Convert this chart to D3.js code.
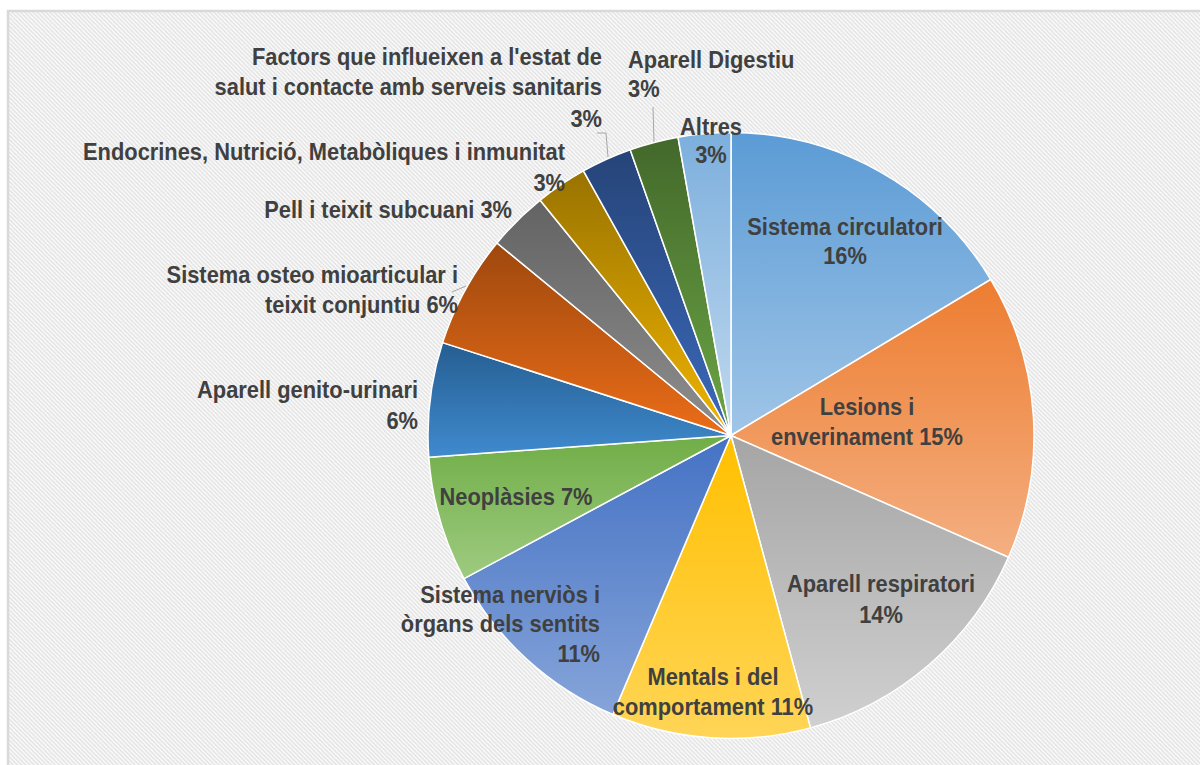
<!DOCTYPE html>
<html>
<head>
<meta charset="utf-8">
<script src="https://cdn.jsdelivr.net/npm/d3@7"></script>
<style>
  html, body { margin: 0; padding: 0; background: #ffffff; }
  svg { display: block; }
</style>
</head>
<body>
<svg id="chart" width="1200" height="765"></svg>
<script>
// ---- data ----
const categories = [
  "Sistema circulatori",
  "Lesions i enverinament",
  "Aparell respiratori",
  "Mentals i del comportament",
  "Sistema nerviòs i òrgans dels sentits",
  "Neoplàsies",
  "Aparell genito-urinari",
  "Sistema osteo mioarticular i teixit conjuntiu",
  "Pell i teixit subcuani",
  "Endocrines, Nutrició, Metabòliques i inmunitat",
  "Factors que influeixen a l'estat de salut i contacte amb serveis sanitaris",
  "Aparell Digestiu",
  "Altres"
];
const values = [16.4, 15.2, 14.2, 10.6, 10.8, 6.7, 6.1, 6.0, 3.2, 2.75, 2.7, 2.6, 2.8];
const baseColors = ["#5B9BD5", "#ED7D31", "#A5A5A5", "#FFC000", "#4472C4", "#70AD47",
                    "#255E91", "#9E480E", "#636363", "#997300", "#264478", "#43682B", "#7CAFDD"];

// ---- label layout (text wrapping and placement) ----
const labelLayout = [
  { lines: ["Sistema circulatori", "{p}"], anchor: "middle", x: 845, y: [235, 264] },
  { lines: ["Lesions i", "enverinament {p}"], anchor: "middle", x: 867, y: [415, 445] },
  { lines: ["Aparell respiratori", "{p}"], anchor: "middle", x: 881, y: [592, 623] },
  { lines: ["Mentals i del", "comportament {p}"], anchor: "middle", x: 713, y: [685, 715] },
  { lines: ["Sistema nerviòs i", "òrgans dels sentits", "{p}"], anchor: "end", x: 600, y: [603, 632, 662] },
  { lines: ["Neoplàsies {p}"], anchor: "middle", x: 516, y: [505] },
  { lines: ["Aparell genito-urinari", "{p}"], anchor: "end", x: 418, y: [398, 429] },
  { lines: ["Sistema osteo mioarticular i", "teixit conjuntiu {p}"], anchor: "end", x: 458, y: [283, 313] },
  { lines: ["Pell i teixit subcuani {p}"], anchor: "end", x: 512, y: [218] },
  { lines: ["Endocrines, Nutrició, Metabòliques i inmunitat", "{p}"], anchor: "end", x: 565, y: [160, 191] },
  { lines: ["Factors que influeixen a l'estat de", "salut i contacte amb serveis sanitaris", "{p}"], anchor: "end", x: 602, y: [65, 95, 127] },
  { lines: ["Aparell Digestiu", "{p}"], anchor: "start", x: 628, y: [68, 97] },
  { lines: ["Altres", "{p}"], anchor: "middle", x: 711, y: [135, 163] }
];
const leaders = [
  [[597, 133], [606, 133], [608, 157]],
  [[653, 107], [654, 142]],
  [[452, 292], [466, 286]]
];

const svg = d3.select("#chart");
const W = 1200, H = 765;
const cx = 731, cy = 435.5, R = 303;

const defs = svg.append("defs");
// striped background
const pat = defs.append("pattern")
  .attr("id", "stripes").attr("patternUnits", "userSpaceOnUse")
  .attr("width", 4.2).attr("height", 4.2);
pat.append("rect").attr("width", 4.2).attr("height", 4.2).attr("fill", "#fbfbfb");
pat.append("path")
  .attr("d", "M-1,-1 L5.2,5.2 M-1,3.2 L1,5.2 M3.2,-1 L5.2,1")
  .attr("stroke", "#e2e2e2").attr("stroke-width", 1.4);

svg.append("rect").attr("width", W).attr("height", H).attr("fill", "#ffffff");
svg.append("rect")
  .attr("x", 8).attr("y", 11).attr("width", W + 20).attr("height", H + 20)
  .attr("fill", "url(#stripes)")
  .attr("stroke", "#d9d9d9").attr("stroke-width", 2.5);

// gradients per slice
baseColors.forEach((c, i) => {
  const hsl = d3.hsl(c);
  const light = d3.hsl(hsl.h, hsl.s, Math.min(0.92, hsl.l + 0.17));
  const g = defs.append("linearGradient")
    .attr("id", "grad" + i)
    .attr("x1", 0).attr("y1", 0).attr("x2", 0).attr("y2", 1);
  g.append("stop").attr("offset", "0%").attr("stop-color", c);
  g.append("stop").attr("offset", "100%").attr("stop-color", light.formatHex());
});

const total = d3.sum(values);
const pie = d3.pie().sort(null).value(d => d).startAngle(0).endAngle(2 * Math.PI);
const arcs = pie(values);
const arc = d3.arc().innerRadius(0).outerRadius(R);

const gPie = svg.append("g").attr("transform", `translate(${cx},${cy})`);
gPie.selectAll("path")
  .data(arcs)
  .join("path")
  .attr("d", arc)
  .attr("fill", (d, i) => `url(#grad${i})`)
  .attr("stroke", "#ffffff")
  .attr("stroke-width", 1.5)
  .attr("stroke-linejoin", "round");

// leader lines
svg.append("g").selectAll("polyline")
  .data(leaders)
  .join("polyline")
  .attr("points", d => d.map(p => p.join(",")).join(" "))
  .attr("fill", "none")
  .attr("stroke", "#a6a6a6")
  .attr("stroke-width", 1);

// labels
const fmt = v => Math.round(v / total * 100) + "%";
const gLab = svg.append("g")
  .attr("font-family", "'Liberation Sans', Arial, sans-serif")
  .attr("font-weight", "bold")
  .attr("font-size", 23.5)
  .attr("fill", "#404040");

labelLayout.forEach((L, i) => {
  L.lines.forEach((line, k) => {
    gLab.append("text")
      .attr("transform", `translate(${L.x},${L.y[k]}) scale(0.93,1)`)
      .attr("text-anchor", L.anchor)
      .text(line.replace("{p}", fmt(values[i])));
  });
});
</script>
</body>
</html>
